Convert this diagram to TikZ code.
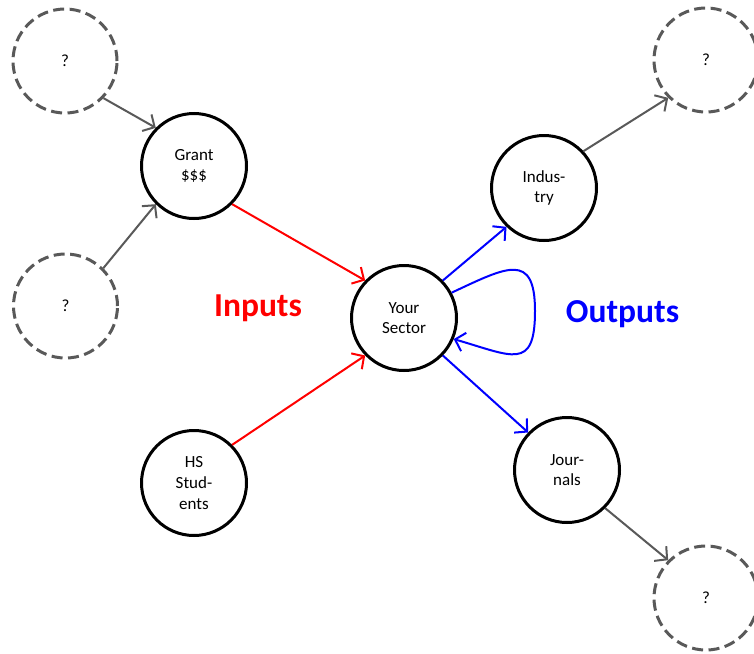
\documentclass[tikz,border=0pt]{standalone}
\usepackage{fontspec}
\setmainfont{Carlito}
\usetikzlibrary{arrows.meta}
\definecolor{dgray}{HTML}{595959}
\begin{document}
\begin{tikzpicture}[x=1pt,y=1pt,
  nodefont/.style={font=\fontsize{17}{20.7}\selectfont},
  solidnode/.style={circle,draw=black,line width=3pt,minimum size=105pt,inner sep=0pt,align=center,nodefont},
  ghost/.style={circle,draw=dgray,line width=3pt,dash pattern=on 11pt off 5.5pt,minimum size=104pt,inner sep=0pt,nodefont},
  tipped/.style={line width=2pt,-{Straight Barb[length=9pt,width=19pt]}},
  grayconn/.style={tipped,draw=dgray},
  redconn/.style={tipped,draw=red},
  blueconn/.style={tipped,draw=blue},
  biglabel/.style={font=\fontsize{33.5}{40}\selectfont\bfseries,anchor=base,inner sep=0pt}
]
\useasboundingbox (0,0) rectangle (754,-653);

% nodes
\node[ghost] (TL) at (65,-61) {?};
\node[ghost] (LM) at (65.5,-306) {?};
\node[ghost] (TR) at (706,-60) {?};
\node[ghost] (BR) at (706,-598) {?};

\node[solidnode] (G) at (194,-166) {Grant\\\$\$\$};
\node[solidnode] (HS) at (194,-483) {HS\\Stud-\\ents};
\node[solidnode] (Y) at (404,-318) {Your\\Sector};
\node[solidnode] (I) at (544,-188) {Indus-\\try};
\node[solidnode] (J) at (567,-470) {Jour-\\nals};

\node[biglabel,text=red] (inputs) at (258,-316) {Inputs};
\node[biglabel,text=blue] (outputs) at (622.5,-322) {Outputs};

% connectors
\draw[grayconn] (TL.-44) -- (G.135);
\draw[grayconn] (LM.45) -- (G.-135);
\draw[redconn] (G.-45) -- (Y.136);
\draw[redconn] (HS.45) -- (Y.-136);
\draw[blueconn] (Y.44) -- (I.-134);
\draw[blueconn] (Y.-44) -- (J.136);
\draw[grayconn] (I.43) -- (TR.-135);
\draw[grayconn] (J.-45) -- (BR.135);

\coordinate (loopR) at (535,-311);
\draw[blueconn] (Y.28) to[out=25,in=90,looseness=1.8] (loopR)
  to[out=-90,in=-16,looseness=1.8] (Y.-23);
\end{tikzpicture}
\end{document}
